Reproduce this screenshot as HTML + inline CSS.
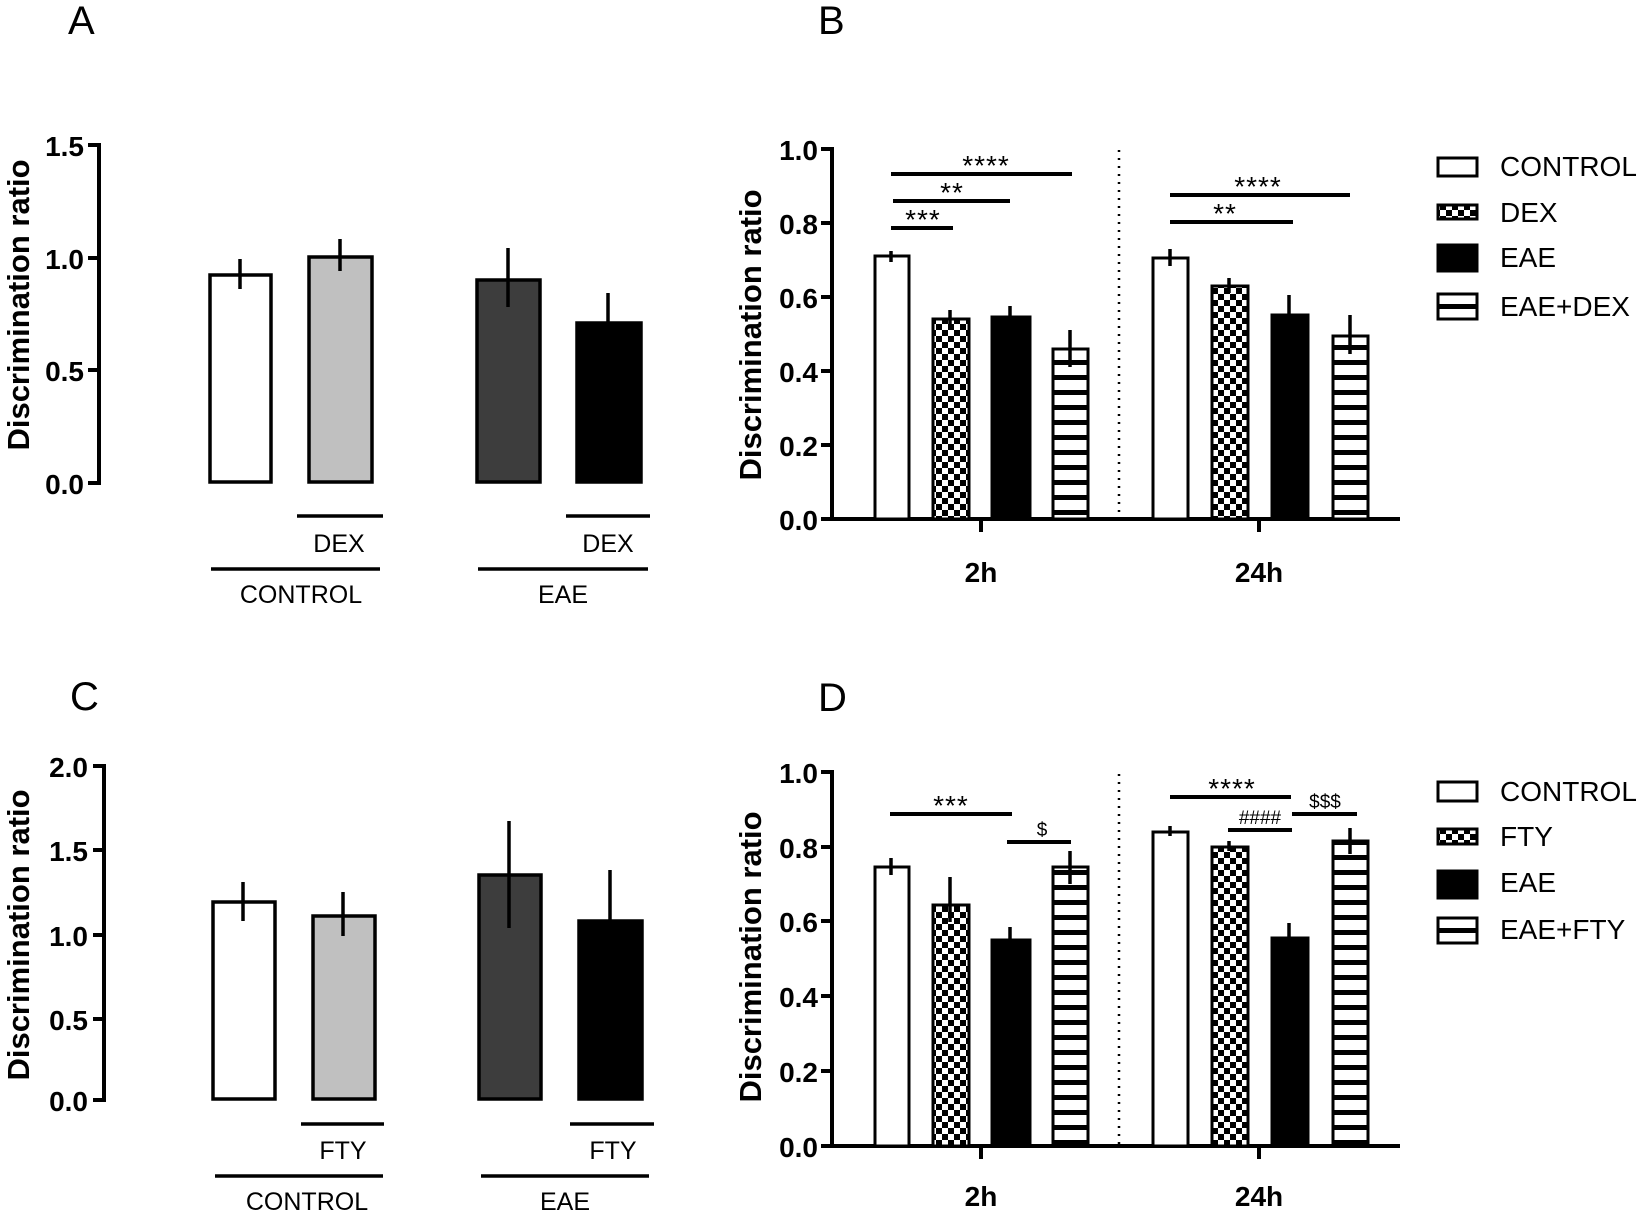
<!DOCTYPE html>
<html><head><meta charset="utf-8"><style>
html,body{margin:0;padding:0;background:#fff;}
svg{display:block;}
text{font-family:"Liberation Sans",Arial,sans-serif;fill:#000;}
.tk{font-size:28px;font-weight:bold;text-anchor:end;}
.yl{font-size:31px;font-weight:bold;text-anchor:middle;}
.gl{font-size:25px;text-anchor:middle;}
.lg{font-size:28px;}
.st{font-size:28px;text-anchor:middle;letter-spacing:1px;}
.sd{font-size:19px;text-anchor:middle;}
.xl{font-size:28px;font-weight:bold;text-anchor:middle;}
.pl{font-size:40px;}
</style></head><body>
<svg width="1644" height="1211" viewBox="0 0 1644 1211" xmlns="http://www.w3.org/2000/svg">
<defs>
<pattern id="chk" width="12" height="12" patternUnits="userSpaceOnUse">
<rect width="12" height="12" fill="#fff"/><rect width="6" height="6" fill="#000"/><rect x="6" y="6" width="6" height="6" fill="#000"/>
</pattern>
<pattern id="str" width="15" height="15" patternUnits="userSpaceOnUse">
<rect width="15" height="15" fill="#fff"/><rect y="0" width="15" height="5" fill="#000"/>
</pattern>
</defs>

<text class="pl" x="68" y="34">A</text>
<text class="pl" x="818" y="34">B</text>
<text class="pl" x="70" y="710">C</text>
<text class="pl" x="818" y="711">D</text>

<!-- ========== Panel A ========== -->
<g stroke="#000" stroke-width="4" fill="none">
<line x1="99" y1="143" x2="99" y2="485"/>
<line x1="88" y1="145" x2="99" y2="145"/>
<line x1="88" y1="258" x2="99" y2="258"/>
<line x1="88" y1="370" x2="99" y2="370"/>
<line x1="88" y1="483" x2="99" y2="483"/>
</g>
<text class="tk" x="84" y="156">1.5</text>
<text class="tk" x="84" y="269">1.0</text>
<text class="tk" x="84" y="381">0.5</text>
<text class="tk" x="84" y="494">0.0</text>
<text class="yl" transform="translate(29,305) rotate(-90)">Discrimination ratio</text>
<g stroke="#000" stroke-width="3.5">
<rect x="210" y="275" width="61" height="207" fill="#fff"/>
<rect x="309" y="257" width="63" height="225" fill="#c0c0c0"/>
<rect x="477" y="280" width="63" height="202" fill="#3d3d3d"/>
<rect x="577" y="323" width="64" height="159" fill="#000"/>
</g>
<g stroke="#000" stroke-width="3.5">
<line x1="240" y1="259" x2="240" y2="289"/>
<line x1="340" y1="239" x2="340" y2="271"/>
<line x1="508" y1="248" x2="508" y2="307"/>
<line x1="608" y1="293" x2="608" y2="323"/>
<line x1="297" y1="516" x2="383" y2="516"/>
<line x1="566" y1="516" x2="650" y2="516"/>
<line x1="211" y1="569" x2="380" y2="569"/>
<line x1="478" y1="569" x2="648" y2="569"/>
</g>
<text class="gl" x="339" y="552">DEX</text>
<text class="gl" x="608" y="552">DEX</text>
<text class="gl" x="301" y="603">CONTROL</text>
<text class="gl" x="563" y="603">EAE</text>

<!-- ========== Panel C ========== -->
<g stroke="#000" stroke-width="4" fill="none">
<line x1="104" y1="764" x2="104" y2="1102"/>
<line x1="93" y1="766" x2="104" y2="766"/>
<line x1="93" y1="850" x2="104" y2="850"/>
<line x1="93" y1="935" x2="104" y2="935"/>
<line x1="93" y1="1019" x2="104" y2="1019"/>
<line x1="93" y1="1100" x2="104" y2="1100"/>
</g>
<text class="tk" x="88" y="777">2.0</text>
<text class="tk" x="88" y="861">1.5</text>
<text class="tk" x="88" y="946">1.0</text>
<text class="tk" x="88" y="1030">0.5</text>
<text class="tk" x="88" y="1111">0.0</text>
<text class="yl" transform="translate(29,935) rotate(-90)">Discrimination ratio</text>
<g stroke="#000" stroke-width="3.5">
<rect x="213" y="902" width="62" height="197" fill="#fff"/>
<rect x="313" y="916" width="62" height="183" fill="#c0c0c0"/>
<rect x="479" y="875" width="62" height="224" fill="#3d3d3d"/>
<rect x="579" y="921" width="63" height="178" fill="#000"/>
</g>
<g stroke="#000" stroke-width="3.5">
<line x1="243" y1="882" x2="243" y2="921"/>
<line x1="343" y1="892" x2="343" y2="936"/>
<line x1="509" y1="821" x2="509" y2="928"/>
<line x1="610" y1="870" x2="610" y2="921"/>
<line x1="301" y1="1124" x2="384" y2="1124"/>
<line x1="570" y1="1124" x2="654" y2="1124"/>
<line x1="215" y1="1176" x2="383" y2="1176"/>
<line x1="481" y1="1176" x2="649" y2="1176"/>
</g>
<text class="gl" x="343" y="1159">FTY</text>
<text class="gl" x="613" y="1159">FTY</text>
<text class="gl" x="307" y="1210">CONTROL</text>
<text class="gl" x="565" y="1210">EAE</text>

<!-- ========== Panel B ========== -->
<g stroke="#000" stroke-width="4" fill="none">
<line x1="832" y1="147" x2="832" y2="521"/>
<line x1="830" y1="519" x2="1400" y2="519"/>
<line x1="821" y1="149" x2="832" y2="149"/>
<line x1="821" y1="223" x2="832" y2="223"/>
<line x1="821" y1="297" x2="832" y2="297"/>
<line x1="821" y1="371" x2="832" y2="371"/>
<line x1="821" y1="445" x2="832" y2="445"/>
<line x1="821" y1="519" x2="832" y2="519"/>
<line x1="981" y1="519" x2="981" y2="532"/>
<line x1="1259" y1="519" x2="1259" y2="532"/>
</g>
<text class="tk" x="818" y="160">1.0</text>
<text class="tk" x="818" y="234">0.8</text>
<text class="tk" x="818" y="308">0.6</text>
<text class="tk" x="818" y="382">0.4</text>
<text class="tk" x="818" y="456">0.2</text>
<text class="tk" x="818" y="530">0.0</text>
<text class="yl" transform="translate(761,335) rotate(-90)">Discrimination ratio</text>
<line x1="1119" y1="150" x2="1119" y2="518" stroke="#000" stroke-width="2.5" stroke-dasharray="2 6"/>
<g stroke="#000" stroke-width="3">
<rect x="875" y="256" width="34" height="263" fill="#fff"/>
<rect x="933" y="319" width="36" height="200" fill="url(#chk)"/>
<rect x="992" y="317" width="38" height="202" fill="#000"/>
<rect x="1053" y="349" width="35" height="170" fill="url(#str)"/>
<rect x="1153" y="258" width="35" height="261" fill="#fff"/>
<rect x="1212" y="286" width="36" height="233" fill="url(#chk)"/>
<rect x="1272" y="315" width="36" height="204" fill="#000"/>
<rect x="1333" y="336" width="35" height="183" fill="url(#str)"/>
</g>
<g stroke="#000" stroke-width="3.5">
<line x1="891" y1="251" x2="891" y2="262"/>
<line x1="950" y1="310" x2="950" y2="328"/>
<line x1="1010" y1="306" x2="1010" y2="327"/>
<line x1="1070" y1="330" x2="1070" y2="367"/>
<line x1="1170" y1="249" x2="1170" y2="266"/>
<line x1="1229" y1="278" x2="1229" y2="293"/>
<line x1="1289" y1="295" x2="1289" y2="315"/>
<line x1="1350" y1="315" x2="1350" y2="354"/>
</g>
<g stroke="#000" stroke-width="4">
<line x1="891" y1="174" x2="1072" y2="174"/>
<line x1="893" y1="201" x2="1010" y2="201"/>
<line x1="891" y1="228" x2="953" y2="228"/>
<line x1="1170" y1="195" x2="1350" y2="195"/>
<line x1="1170" y1="222" x2="1293" y2="222"/>
</g>
<text class="st" x="986" y="175">****</text>
<text class="st" x="952" y="202">**</text>
<text class="st" x="923" y="229">***</text>
<text class="st" x="1258" y="196">****</text>
<text class="st" x="1225" y="223">**</text>
<text class="xl" x="981" y="582">2h</text>
<text class="xl" x="1259" y="582">24h</text>
<g stroke="#000" stroke-width="3">
<rect x="1438" y="158" width="39" height="18" fill="#fff"/>
<rect x="1438" y="205" width="39" height="14" fill="url(#chk)"/>
<rect x="1438" y="245" width="39" height="26" fill="#000"/>
<rect x="1438" y="294" width="39" height="25" fill="#fff"/>
<line x1="1438" y1="306.5" x2="1477" y2="306.5" stroke-width="5"/>
</g>
<text class="lg" x="1500" y="176">CONTROL</text>
<text class="lg" x="1500" y="222">DEX</text>
<text class="lg" x="1500" y="267">EAE</text>
<text class="lg" x="1500" y="316">EAE+DEX</text>

<!-- ========== Panel D ========== -->
<g stroke="#000" stroke-width="4" fill="none">
<line x1="832" y1="770" x2="832" y2="1148"/>
<line x1="830" y1="1146" x2="1400" y2="1146"/>
<line x1="821" y1="772" x2="832" y2="772"/>
<line x1="821" y1="847" x2="832" y2="847"/>
<line x1="821" y1="921" x2="832" y2="921"/>
<line x1="821" y1="996" x2="832" y2="996"/>
<line x1="821" y1="1071" x2="832" y2="1071"/>
<line x1="821" y1="1146" x2="832" y2="1146"/>
<line x1="981" y1="1146" x2="981" y2="1159"/>
<line x1="1259" y1="1146" x2="1259" y2="1159"/>
</g>
<text class="tk" x="818" y="783">1.0</text>
<text class="tk" x="818" y="858">0.8</text>
<text class="tk" x="818" y="932">0.6</text>
<text class="tk" x="818" y="1007">0.4</text>
<text class="tk" x="818" y="1082">0.2</text>
<text class="tk" x="818" y="1157">0.0</text>
<text class="yl" transform="translate(761,957) rotate(-90)">Discrimination ratio</text>
<line x1="1119" y1="774" x2="1119" y2="1145" stroke="#000" stroke-width="2.5" stroke-dasharray="2 6"/>
<g stroke="#000" stroke-width="3">
<rect x="875" y="867" width="34" height="279" fill="#fff"/>
<rect x="933" y="905" width="36" height="241" fill="url(#chk)"/>
<rect x="992" y="940" width="38" height="206" fill="#000"/>
<rect x="1053" y="867" width="35" height="279" fill="url(#str)"/>
<rect x="1153" y="832" width="35" height="314" fill="#fff"/>
<rect x="1212" y="847" width="36" height="299" fill="url(#chk)"/>
<rect x="1272" y="938" width="36" height="208" fill="#000"/>
<rect x="1333" y="841" width="35" height="305" fill="url(#str)"/>
</g>
<g stroke="#000" stroke-width="3.5">
<line x1="891" y1="858" x2="891" y2="875"/>
<line x1="950" y1="877" x2="950" y2="922"/>
<line x1="1010" y1="927" x2="1010" y2="940"/>
<line x1="1070" y1="851" x2="1070" y2="884"/>
<line x1="1170" y1="826" x2="1170" y2="836"/>
<line x1="1229" y1="841" x2="1229" y2="851"/>
<line x1="1289" y1="923" x2="1289" y2="938"/>
<line x1="1350" y1="828" x2="1350" y2="854"/>
</g>
<g stroke="#000" stroke-width="4">
<line x1="890" y1="814" x2="1012" y2="814"/>
<line x1="1007" y1="842" x2="1071" y2="842"/>
<line x1="1170" y1="797" x2="1291" y2="797"/>
<line x1="1228" y1="830" x2="1292" y2="830"/>
<line x1="1292" y1="814" x2="1357" y2="814"/>
</g>
<text class="st" x="951" y="815">***</text>
<text class="sd" x="1042" y="836">$</text>
<text class="st" x="1232" y="798">****</text>
<text class="sd" x="1260" y="824">####</text>
<text class="sd" x="1325" y="808">$$$</text>
<text class="xl" x="981" y="1206">2h</text>
<text class="xl" x="1259" y="1206">24h</text>
<g stroke="#000" stroke-width="3">
<rect x="1438" y="782" width="39" height="19" fill="#fff"/>
<rect x="1438" y="829" width="39" height="15" fill="url(#chk)"/>
<rect x="1438" y="871" width="39" height="27" fill="#000"/>
<rect x="1438" y="918" width="39" height="25" fill="#fff"/>
<line x1="1438" y1="930.5" x2="1477" y2="930.5" stroke-width="5"/>
</g>
<text class="lg" x="1500" y="801">CONTROL</text>
<text class="lg" x="1500" y="846">FTY</text>
<text class="lg" x="1500" y="892">EAE</text>
<text class="lg" x="1500" y="939">EAE+FTY</text>
</svg>
</body></html>
